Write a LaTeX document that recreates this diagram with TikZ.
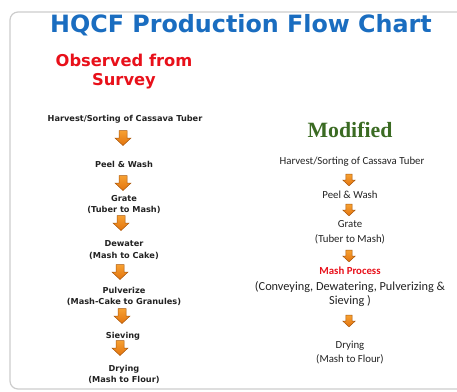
\documentclass[tikz,border=0pt]{standalone}
\usepackage{fontspec}
\newfontfamily\verdfont{DejaVu Sans}
\newfontfamily\calfont{Carlito}
\newfontfamily\camfont{Liberation Serif}
\definecolor{titleblue}{HTML}{1A6DC0}
\definecolor{surveyred}{HTML}{E8101A}
\definecolor{modgreen}{HTML}{3B6B23}
\definecolor{arrowtop}{HTML}{F7A132}
\definecolor{arrowbot}{HTML}{E2730E}
\definecolor{arrowedge}{HTML}{A8560C}
\definecolor{txtgray}{HTML}{222222}

\begin{document}
\begin{tikzpicture}[x=1pt, y=-1pt,
  oldstep/.style={align=center, text=txtgray, font=\fontsize{8.2}{11.5}\selectfont\verdfont\bfseries},
  newstep/.style={align=center, text=txtgray, font=\fontsize{10.8}{15}\selectfont\calfont},
  blockarr/.pic={
    \draw [draw=arrowedge, line width=0.5pt, top color=arrowtop, bottom color=arrowbot]
      (-4, -7.5) -- (4, -7.5) -- (4, 0) -- (8, 0) -- (0, 7.5) -- (-8, 0) -- (-4, 0) -- cycle;
    \coordinate (-c) at (0, 0);
  }]

\useasboundingbox (0, 0) rectangle (457, 391);
\clip (0, 0) rectangle (457, 391);
\draw [rounded corners=8pt, draw=gray!40, line width=1.2pt] (10, 12) rectangle (480, 389);

\node (title) [text=titleblue, font=\fontsize{23.8}{28}\selectfont\verdfont\bfseries] at (241, 25) {HQCF Production Flow Chart};

% observed from survey
\node (survey) [align=center, text=surveyred, font=\fontsize{16.3}{19}\selectfont\verdfont\bfseries] at (124, 72) {Observed from \\ Survey};

\node (h1) [oldstep] at (125, 119) {Harvest/Sorting of Cassava Tuber};
\node (p1) [oldstep] at (124, 164) {Peel \& Wash};
\node (g1) [oldstep] at (124, 204.5) {Grate \\ (Tuber to Mash)};
\node (d1) [oldstep] at (124, 250) {Dewater \\ (Mash to Cake)};
\node (u1) [oldstep] at (124, 296.5) {Pulverize \\ (Mash-Cake to Granules)};
\node (s1) [oldstep] at (123, 336) {Sieving};
\node (y1) [oldstep] at (124, 374.5) {Drying \\ (Mash to Flour)};

\pic (a1) at (123, 138) {blockarr};
\pic (a2) at (123, 183) {blockarr};
\pic (a3) at (121, 223) {blockarr};
\pic (a4) at (120, 272) {blockarr};
\pic (a5) at (122, 316) {blockarr};
\pic (a6) at (120, 348) {blockarr};

% modified
\node (mod) [text=modgreen, font=\fontsize{21.8}{24}\selectfont\camfont\bfseries] at (350, 130) {Modified};

\node (h2) [newstep] at (352, 162) {Harvest/Sorting of Cassava Tuber};
\node (p2) [newstep] at (350, 195) {Peel \& Wash};
\node (g2) [newstep] at (350, 232.5) {Grate \\ (Tuber to Mash)};
\node (mp) [newstep, text=surveyred, font=\fontsize{10.8}{12}\selectfont\calfont\bfseries] at (350, 271) {Mash Process};
\node (cv) [newstep, font=\fontsize{12.3}{14}\selectfont\calfont] at (350, 294) {(Conveying, Dewatering, Pulverizing \& \\ Sieving )};
\node (y2) [newstep, font=\fontsize{10.8}{14}\selectfont\calfont] at (350, 353) {Drying \\ (Mash to Flour)};

\pic (b1) [scale=0.78] at (349, 180) {blockarr};
\pic (b2) [scale=0.78] at (349, 210) {blockarr};
\pic (b3) [scale=0.78] at (349, 256) {blockarr};
\pic (b4) [scale=0.78] at (349, 321) {blockarr};

\end{tikzpicture}
\end{document}
